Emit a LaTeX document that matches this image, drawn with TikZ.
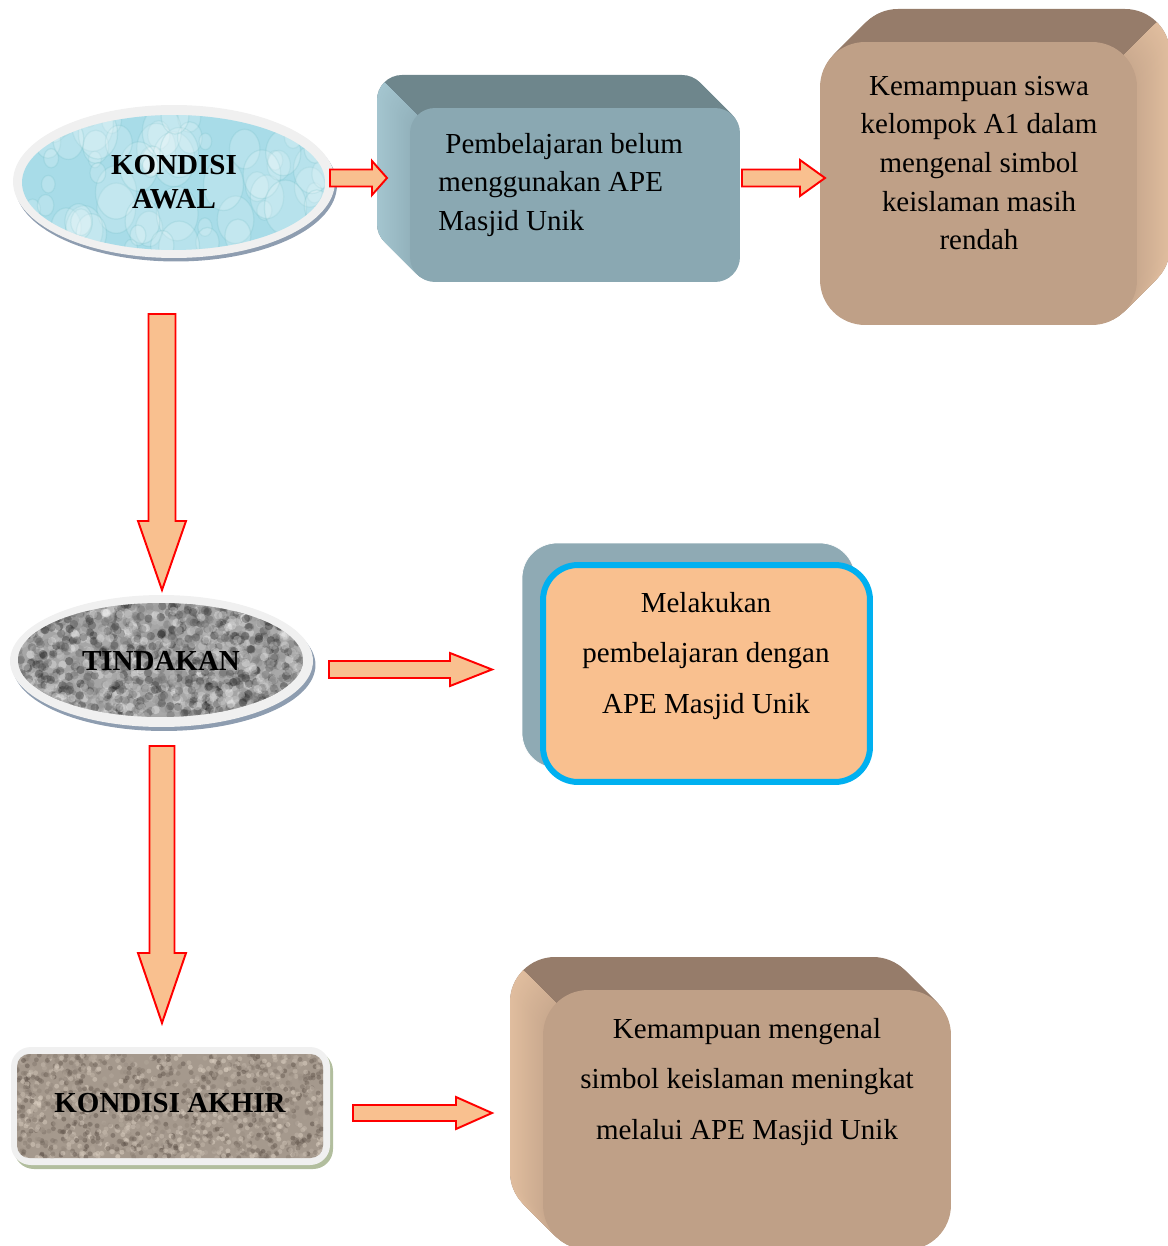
\documentclass[tikz,border=0pt]{standalone}
\usepackage{fontspec}
\setmainfont{Liberation Serif}
\usepackage{tikz}
\usetikzlibrary{calc,shapes.geometric}

\definecolor{peach}{HTML}{F9C08F}
\definecolor{ringgrey}{HTML}{F0F0F0}
\definecolor{ringshadow}{HTML}{8E9DB0}
\definecolor{akhirshadow}{HTML}{B2BE9E}
\definecolor{watercyan}{HTML}{A8DCE8}
\definecolor{slatefront}{HTML}{8AA8B2}
\definecolor{slatetop}{HTML}{6E868C}
\definecolor{slateside}{HTML}{A4C5CF}
\definecolor{slateback}{HTML}{8FAAB4}
\definecolor{tanfront}{HTML}{BFA087}
\definecolor{tantop}{HTML}{967C6A}
\definecolor{tanside}{HTML}{E0BD9E}
\definecolor{cyanline}{HTML}{00B0F0}
\definecolor{stonedark}{HTML}{5A4E45}
\definecolor{stonelight}{HTML}{E2D6C8}

% block arrow: tail, tip, shaft half width, head length, head half width
\newcommand{\fatarrow}[5]{%
  \coordinate (hb) at ($(#2)!#4!(#1)$);
  \draw[arrowbody] ($(#1)!#3!90:(#2)$) -- ($(hb)!#3!90:(#2)$) -- ($(hb)!#5!90:(#2)$) -- (#2)
    -- ($(hb)!#5!-90:(#2)$) -- ($(hb)!#3!-90:(#2)$) -- ($(#1)!#3!-90:(#2)$) -- cycle;}

\tikzset{
  txt/.style={font=\fontsize{16.5}{22}\selectfont, inner sep=0pt},
  wide/.style={font=\fontsize{16.5}{28.6}\selectfont, inner sep=0pt, align=center},
  bold/.style={font=\fontsize{16.5}{19.3}\selectfont\bfseries, align=center, inner sep=0pt},
  arrowbody/.style={fill=peach, draw=red, line width=1.1pt, line join=miter},
}

\begin{document}
\begin{tikzpicture}[x=0.02cm, y=-0.02cm]
\useasboundingbox (0,0) rectangle (1167,1246);
\pgfmathsetseed{42}

% ---- KONDISI AWAL ellipse
\fill[ringshadow] (176,185) ellipse [x radius=3.22cm, y radius=1.53cm];
\fill[ringgrey] (174,181.5) ellipse [x radius=3.22cm, y radius=1.53cm];
\begin{scope}
  \clip (173.5,182.5) ellipse [x radius=3.03cm, y radius=1.35cm];
  \fill[watercyan] (15,100) rectangle (335,260);
  \foreach \i in {1,...,70}{
    \pgfmathsetmacro\bx{22+303*rnd}
    \pgfmathsetmacro\by{115+135*rnd}
    \pgfmathsetmacro\br{3+9*rnd}
    \fill[white, opacity=0.18] (\bx,\by) ellipse [x radius=\br pt, y radius=1.3*\br pt];
    \draw[watercyan!60!teal, opacity=0.18, line width=0.7pt] (\bx,\by) ellipse [x radius=\br pt, y radius=1.3*\br pt];
  }
\end{scope}

% ---- TINDAKAN ellipse
\fill[ringshadow] (164,665) ellipse [x radius=3.03cm, y radius=1.32cm];
\fill[ringgrey] (161.5,661) ellipse [x radius=3.03cm, y radius=1.32cm];
\begin{scope}
  \clip (160.5,660) ellipse [x radius=2.85cm, y radius=1.14cm];
  \fill[gray!70] (15,600) rectangle (310,720);
  \foreach \i in {1,...,1600}{
    \pgfmathsetmacro\nx{18+285*rnd}
    \pgfmathsetmacro\ny{603+114*rnd}
    \pgfmathsetmacro\g{int(95*rnd)}
    \fill[black!\g!white, opacity=0.35] (\nx,\ny) circle (2.4pt);
  }
\end{scope}

% ---- KONDISI AKHIR box
\fill[akhirshadow, rounded corners=0.4cm] (14,1051) rectangle (333,1169);
\fill[ringgrey, rounded corners=0.4cm] (11,1047) rectangle (330,1165);
\begin{scope}
  \clip[rounded corners=0.25cm] (17,1054) rectangle (323,1158);
  \fill[stonedark!45!stonelight] (15,1050) rectangle (325,1160);
  \foreach \i in {1,...,1600}{
    \pgfmathsetmacro\nx{17+306*rnd}
    \pgfmathsetmacro\ny{1054+104*rnd}
    \pgfmathsetmacro\g{int(100*rnd)}
    \fill[stonedark!\g!stonelight, opacity=0.5] (\nx,\ny) circle (1.4pt);
  }
\end{scope}

% ---- 3D box, blue grey (depth to the upper left)
\foreach \i in {33,...,1}{
  \fill[slatetop, rounded corners=0.5cm] (410-\i,108-\i) rectangle (740-\i,282-\i);
}
\begin{scope}
  \clip (210,-92) -- (810,508) -- (210,508) -- cycle;
  \foreach \i in {33,...,1}{
    \pgfmathsetmacro\m{int(35+65*\i/33)}
    \fill[slateside!\m!slatefront, rounded corners=0.5cm] (410-\i,108-\i) rectangle (740-\i,282-\i);
  }
\end{scope}

% ---- 3D box, brown (depth to the upper right)
\foreach \i in {33,...,1}{
  \fill[tantop, rounded corners=0.9cm] (820+\i,42-\i) rectangle (1137+\i,325-\i);
}
\begin{scope}
  \clip (1337,-158) -- (737,442) -- (1337,442) -- cycle;
  \foreach \i in {33,...,1}{
    \pgfmathsetmacro\m{int(35+65*\i/33)}
    \fill[tanside!\m!tanfront, rounded corners=0.9cm] (820+\i,42-\i) rectangle (1137+\i,325-\i);
  }
\end{scope}

% ---- 3D box, brown, bottom (depth to the upper left)
\foreach \i in {33,...,1}{
  \fill[tantop, rounded corners=0.9cm] (543-\i,990-\i) rectangle (951-\i,1250-\i);
}
\begin{scope}
  \clip (343,790) -- (943,1390) -- (343,1390) -- cycle;
  \foreach \i in {33,...,1}{
    \pgfmathsetmacro\m{int(35+65*\i/33)}
    \fill[tanside!\m!tanfront, rounded corners=0.9cm] (543-\i,990-\i) rectangle (951-\i,1250-\i);
  }
\end{scope}

% ---- back card of the cyan box
\draw[white, fill=slateback, line width=0.4pt, rounded corners=0.7cm] (522,543) rectangle (855,768);

% ---- front faces
\node[rectangle, rounded corners=0.5cm, fill=slatefront, minimum width=6.6cm, minimum height=3.48cm] (pemb) at (575,195) {};
\node[rectangle, rounded corners=0.9cm, fill=tanfront, minimum width=6.34cm, minimum height=5.66cm] (rendah) at (978.5,183.5) {};
\node[rectangle, rounded corners=0.7cm, fill=peach, draw=cyanline, line width=3.4pt, minimum width=6.54cm, minimum height=4.34cm] (melakukan) at (706.5,673.5) {};
\node[rectangle, rounded corners=0.9cm, fill=tanfront, minimum width=8.16cm, minimum height=5.2cm] (meningkat) at (747,1120) {};

% ---- texts
\node[bold] (awal) at (174,182) {KONDISI\\AWAL};
\node[bold] (tindakan) at (161,661) {TINDAKAN};
\node[bold] (akhir) at (170,1103) {KONDISI AKHIR};
\node[txt, align=left, anchor=west] (pembtxt) at (438,185) {\hspace*{4pt}Pembelajaran belum\\menggunakan APE\\Masjid Unik};
\node[txt, align=center] (rendahtxt) at (979,163) {Kemampuan siswa\\kelompok A1 dalam\\mengenal simbol\\keislaman masih\\rendah};
\node[wide] (melakukantxt) at (706,656) {Melakukan\\pembelajaran dengan\\APE Masjid Unik};
\node[wide] (meningkattxt) at (747,1082) {Kemampuan mengenal\\simbol keislaman meningkat\\melalui APE Masjid Unik};

% ---- arrows
\coordinate (a1s) at (330,178);   \coordinate (a1e) at (387,178);
\coordinate (a2s) at (742,178);   \coordinate (a2e) at (825,178);
\coordinate (a3s) at (329,669.5); \coordinate (a3e) at (492,669.5);
\coordinate (a4s) at (353,1113);  \coordinate (a4e) at (492,1113);
\coordinate (d1s) at (162,314);   \coordinate (d1e) at (162,590);
\coordinate (d2s) at (162,746);   \coordinate (d2e) at (162,1023);

\fatarrow{a1s}{a1e}{0.17cm}{0.3cm}{0.34cm}
\fatarrow{a2s}{a2e}{0.17cm}{0.5cm}{0.36cm}
\fatarrow{a3s}{a3e}{0.17cm}{0.84cm}{0.33cm}
\fatarrow{a4s}{a4e}{0.16cm}{0.72cm}{0.32cm}
\fatarrow{d1s}{d1e}{0.27cm}{1.38cm}{0.48cm}
\fatarrow{d2s}{d2e}{0.25cm}{1.4cm}{0.48cm}
\end{tikzpicture}
\end{document}
